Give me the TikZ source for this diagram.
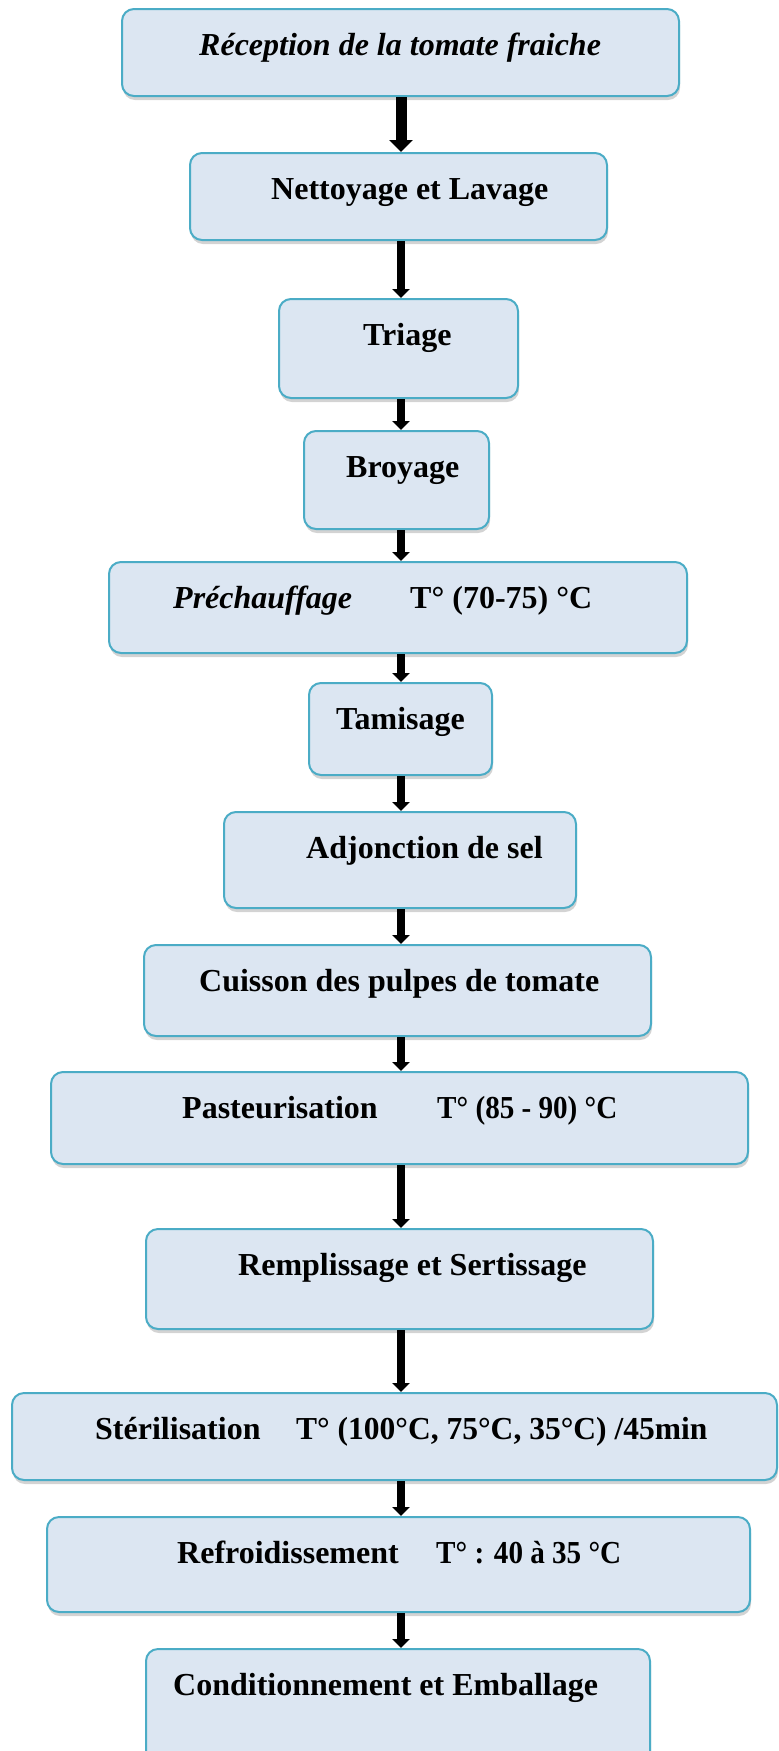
\documentclass[tikz,border=0pt]{standalone}
\usepackage{fontspec}
\setmainfont{Liberation Serif}
\usepackage{tikz}
\usetikzlibrary{arrows.meta,shadows}
\definecolor{boxfill}{HTML}{DCE6F2}
\definecolor{boxline}{HTML}{4BACC6}

\begin{document}
\begin{tikzpicture}[x=1pt,y=-1pt, every node/.style={font=\fontsize{32}{38}\selectfont\bfseries}, bx/.style={draw=boxline,fill=boxfill,line width=2pt,rounded corners=12pt,inner sep=0pt,drop shadow={shadow xshift=1pt,shadow yshift=-4pt,opacity=.35}}, tx/.style={anchor=base west,inner sep=0pt}, ar/.style={-{Triangle[length=9pt,width=17pt]},line width=8pt}, bigar/.style={-{Triangle[length=12pt,width=23pt]},line width=11pt}]
\useasboundingbox (0,0) rectangle (779,1751);
\coordinate (ax) at (401,0);
% boxes
\node[bx,minimum width=557pt,minimum height=87pt]  (a) at (400.5,52.5)  {};
\node[bx,minimum width=417pt,minimum height=87pt]  (b) at (398.5,196.5) {};
\node[bx,minimum width=239pt,minimum height=99pt]  (c) at (398.5,348.5) {};
\node[bx,minimum width=185pt,minimum height=98pt]  (d) at (396.5,480)   {};
\node[bx,minimum width=578pt,minimum height=91pt]  (e) at (398,607.5)   {};
\node[bx,minimum width=183pt,minimum height=92pt]  (f) at (400.5,729)   {};
\node[bx,minimum width=352pt,minimum height=96pt]  (g) at (400,860)     {};
\node[bx,minimum width=507pt,minimum height=91pt]  (h) at (397.5,990.5) {};
\node[bx,minimum width=697pt,minimum height=92pt]  (i) at (399.5,1118)  {};
\node[bx,minimum width=507pt,minimum height=100pt] (j) at (399.5,1279)  {};
\node[bx,minimum width=765pt,minimum height=87pt]  (k) at (394.5,1436.5) {};
\node[bx,minimum width=703pt,minimum height=95pt]  (l) at (398.5,1564.5) {};
\node[bx,minimum width=504pt,minimum height=121pt] (m) at (398,1709.5)  {};
% texts
\node[tx] (ta)  at (199,55)   {\itshape Réception de la tomate fraiche};
\node[tx] (tb)  at (271,199)  {Nettoyage et Lavage};
\node[tx] (tc)  at (363,345)  {Triage};
\node[tx] (td)  at (346,477)  {Broyage};
\node[tx] (te)  at (173,608)  {\itshape Préchauffage};
\node[tx] (te2) at (410,608)  {T° (70-75) °C};
\node[tx] (tf)  at (336,729)  {Tamisage};
\node[tx] (tg)  at (306,858)  {Adjonction de sel};
\node[tx] (th)  at (199,991)  {Cuisson des pulpes de tomate};
\node[tx] (ti)  at (182,1118) {Pasteurisation};
\node[tx] (ti2) at (437,1118) {\scalebox{0.91}[1]{T° (85 - 90) °C}};
\node[tx] (tj)  at (238,1275) {Remplissage et Sertissage};
\node[tx] (tk)  at (95,1439)  {Stérilisation};
\node[tx] (tk2) at (296,1439) {\scalebox{0.985}[1]{T° (100°C, 75°C, 35°C) /45min}};
\node[tx] (tl)  at (177,1563) {Refroidissement};
\node[tx] (tl2) at (436,1563) {\scalebox{0.91}[1]{T° : 40 à 35 °C}};
\node[tx] (tm)  at (173,1695) {Conditionnement et Emballage};
% arrows
\draw[bigar] (a.south -| ax) -- (b.north -| ax);
\draw[ar] (b.south -| ax) -- (c.north -| ax);
\draw[ar] (c.south -| ax) -- (d.north -| ax);
\draw[ar] (d.south -| ax) -- (e.north -| ax);
\draw[ar] (e.south -| ax) -- (f.north -| ax);
\draw[ar] (f.south -| ax) -- (g.north -| ax);
\draw[ar] (g.south -| ax) -- (h.north -| ax);
\draw[ar] (h.south -| ax) -- (i.north -| ax);
\draw[ar] (i.south -| ax) -- (j.north -| ax);
\draw[ar] (j.south -| ax) -- (k.north -| ax);
\draw[ar] (k.south -| ax) -- (l.north -| ax);
\draw[ar] (l.south -| ax) -- (m.north -| ax);
\end{tikzpicture}
\end{document}
